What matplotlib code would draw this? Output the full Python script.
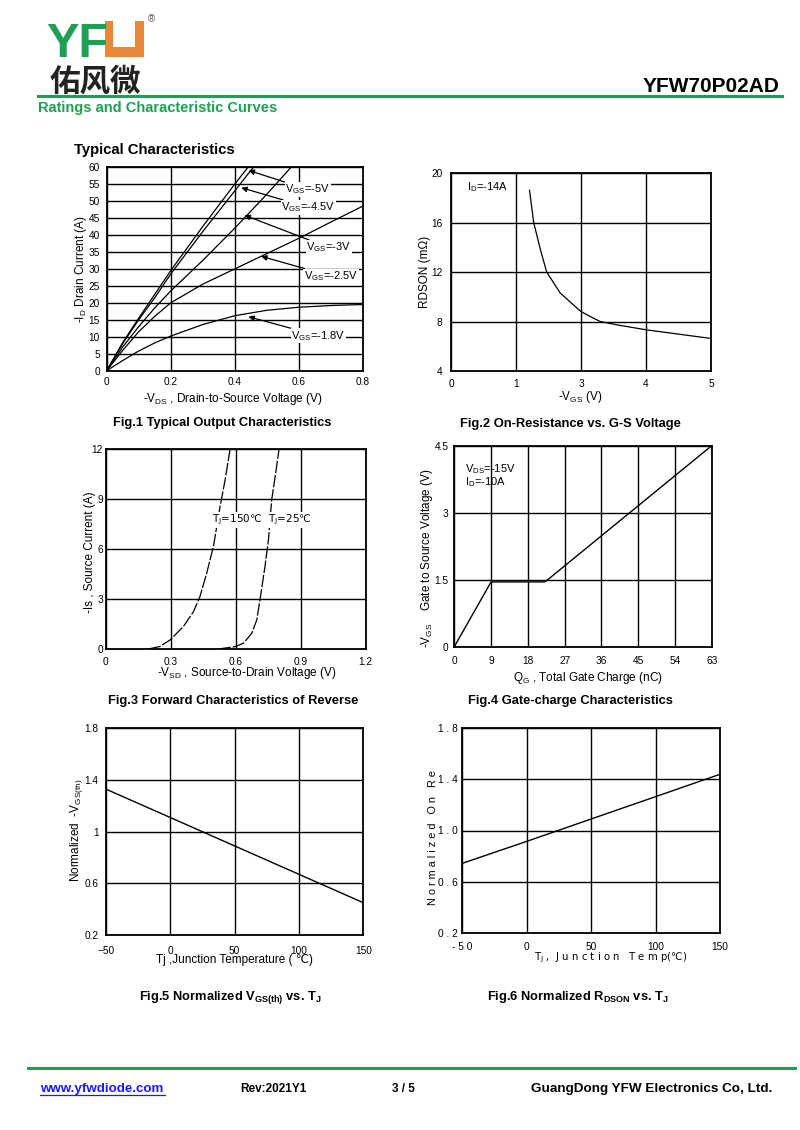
import numpy as np
import matplotlib.pyplot as plt
from matplotlib.patches import Rectangle
from matplotlib.lines import Line2D

plt.rcParams['font.family'] = ['Liberation Sans', 'DejaVu Sans']
plt.rcParams['mathtext.fontset'] = 'custom'
plt.rcParams['mathtext.rm'] = 'Liberation Sans'
plt.rcParams['mathtext.default'] = 'regular'

# ========== DATA ==========

# Fig.1 output characteristics
vds_lo = [0, 0.05, 0.1, 0.15, 0.2, 0.3, 0.4, 0.5, 0.6, 0.7, 0.8]
id_18 = [0, 3.0, 5.8, 8.2, 10.2, 13.6, 16.2, 17.8, 18.7, 19.2, 19.5]
id_25 = [0, 6.0, 11.5, 16.0, 20.0, 25.5, 30.0, 34.5, 39.0, 43.8, 48.5]
vds_hi = [0, 0.05, 0.1, 0.15, 0.2, 0.3, 0.4, 0.5, 0.6]
id_30 = [0, 7.0, 13.0, 18.5, 23.5, 32.5, 42.0, 52.0, 62.5]
id_45 = [0, 8.0, 15.0, 21.5, 28.5, 41.0, 53.0, 65.0, 77.0]
id_50 = [0, 8.3, 15.5, 22.5, 29.5, 42.5, 55.0, 67.0, 79.0]
vgs_curves = ["-1.8V", "-2.5V", "-3V", "-4.5V", "-5V"]
# label centre, arrow tip
lab_pos = [(0.661, 10.3), (0.70, 27.9), (0.6925, 36.3), (0.63, 48.1), (0.627, 53.4)]
tip_pos = [(0.4425, 15.9), (0.482, 33.7), (0.43, 45.8), (0.42, 53.9), (0.443, 59.0)]

# Fig.2 on-resistance (x in the chart's own grid frame, labels 0,1,3,4,5)
vgs2 = [1.51, 1.59, 1.72, 1.84, 2.10, 2.50, 2.74, 2.87, 3.19, 3.75, 4.34, 5.0]
rds2 = [18.6, 16.0, 13.8, 12.0, 10.3, 8.8, 8.27, 8.0, 7.73, 7.33, 7.0, 6.63]
x2_ticks = [0, 1.25, 2.5, 3.75, 5]
x2_labels = ["0", "1", "3", "4", "5"]

# Fig.3 body diode
vsd_150 = [0.197, 0.25, 0.297, 0.358, 0.405, 0.435, 0.466, 0.497, 0.528, 0.551, 0.574]
is_150 = [0.0, 0.15, 0.54, 1.34, 2.24, 3.15, 4.55, 6.15, 8.56, 10.16, 12.0]
vsd_25 = [0.52, 0.597, 0.635, 0.674, 0.697, 0.712, 0.735, 0.751, 0.766, 0.782, 0.80]
is_25 = [0.0, 0.14, 0.34, 0.94, 1.74, 2.94, 4.95, 6.55, 8.95, 10.35, 12.0]

# Fig.4 gate charge
qg = [0, 9, 22.2, 63]
vgs4 = [0, 1.45, 1.45, 4.5]

# Fig.5 / Fig.6 normalised vs temperature
tj = [-50, 0, 50, 100, 150]
vth_norm = [1.33, 1.11, 0.89, 0.67, 0.45]
rds_norm = [0.743, 0.915, 1.09, 1.265, 1.44]

# ========== LAYOUT HELPERS ==========

W, H = 800, 1130
GREEN = '#1f9e55'

fig = plt.figure(figsize=(8, 11.3), dpi=100)


def make_axes(l, t, r, b):
    return fig.add_axes([l / W, 1 - b / H, (r - l) / W, (b - t) / H])


def style(ax, xlim, ylim, xt, yt, xpad, ypad, xtl=None, ytl=None):
    ax.set_xlim(xlim)
    ax.set_ylim(ylim)
    ax.set_xticks(xt)
    ax.set_yticks(yt)
    if xtl is not None:
        ax.set_xticklabels(xtl)
    if ytl is not None:
        ax.set_yticklabels(ytl)
    ax.grid(True, color='black', lw=1.0)
    ax.set_axisbelow(True)
    ax.tick_params(axis='x', length=0, labelsize=7.3, pad=xpad)
    ax.tick_params(axis='y', length=0, labelsize=7.3, pad=ypad)
    for s in ax.spines.values():
        s.set_linewidth(1.3)


def labels(ax, box, xlab, xc, ylab, yc, size=8.5, xsize=None, xkw=None):
    l, t, r, b = box
    ax.set_xlabel(xlab, fontsize=xsize or size, **(xkw or {}))
    ax.set_ylabel(ylab, fontsize=size)
    ax.xaxis.label.set_va('center')
    ax.yaxis.label.set_va('center')
    ax.xaxis.set_label_coords((xc[0] - l) / (r - l), (b - xc[1]) / (b - t))
    ax.yaxis.set_label_coords((yc[0] - l) / (r - l), (b - yc[1]) / (b - t))


def caption(x, y, s):
    fig.text(x / W, 1 - y / H, s, ha='center', va='center',
             fontsize=9.3, fontweight='bold')


# ========== HEADER ==========

fig.text(46 / W, 1 - 57 / H, "YF", color=GREEN, fontsize=35,
         fontweight='bold', va='baseline')
fig.add_artist(Rectangle((105 / W, 1 - 57 / H), 39 / W, 36 / H,
                         transform=fig.transFigure, color='#e8863a', lw=0))
fig.add_artist(Rectangle((113 / W, 1 - 47 / H), 22 / W, 27 / H,
                         transform=fig.transFigure, color='white', lw=0))
fig.text(148 / W, 1 - 22 / H, "®", fontsize=7, color='#555555')
fig.text(50 / W, 1 - 91 / H, "佑风微", fontsize=22, fontweight='bold',
         family=['Noto Sans CJK SC'], color='#222222', va='baseline')
fig.add_artist(Line2D([38 / W, 782 / W], [1 - 96 / H] * 2, color=GREEN,
                      lw=2.2, transform=fig.transFigure))
fig.text(779 / W, 1 - 92 / H, "YFW70P02AD", fontsize=15, fontweight='bold',
         ha='right', va='baseline')
fig.text(38 / W, 1 - 112 / H, "Ratings and Characteristic Curves",
         fontsize=10.5, fontweight='bold', color=GREEN, va='baseline')
fig.text(74 / W, 1 - 154 / H, "Typical Characteristics", fontsize=10.7,
         fontweight='bold', va='baseline')

# ========== FIG.1 ==========

box1 = (106.7, 167, 363, 370.7)
ax1 = make_axes(*box1)
style(ax1, (0, 0.8), (0, 60), [0, 0.2, 0.4, 0.6, 0.8],
      np.arange(0, 61, 5), 4.3, 5, xtl=["0", "0.2", "0.4", "0.6", "0.8"])
ax1.plot(vds_lo, id_18, color='black', lw=0.9)
ax1.plot(vds_lo, id_25, color='black', lw=0.9)
ax1.plot(vds_hi, id_30, color='black', lw=0.9)
ax1.plot(vds_hi, id_45, color='black', lw=0.9)
ax1.plot(vds_hi, id_50, color='black', lw=0.9)
for name, lp, tp in zip(vgs_curves, lab_pos, tip_pos):
    ax1.annotate("V$_{GS}$=" + name, xy=tp, xytext=lp, fontsize=8,
                 ha='center', va='center',
                 bbox=dict(boxstyle='square,pad=0.05', fc='white', ec='none'),
                 arrowprops=dict(arrowstyle='-|>', color='black', lw=0.9,
                                 mutation_scale=8, shrinkA=0, shrinkB=0))
labels(ax1, box1, "-V$_{DS}$ , Drain-to-Source Voltage (V)", (233, 399),
       "-I$_D$ Drain Current (A)", (81, 269))
caption(222, 423, "Fig.1 Typical Output Characteristics")

# ========== FIG.2 ==========

box2 = (451, 173, 711, 371)
ax2 = make_axes(*box2)
style(ax2, (0, 5), (4, 20), x2_ticks, [4, 8, 12, 16, 20], 5.5, 6,
      xtl=x2_labels)
ax2.plot(vgs2, rds2, color='black', lw=0.9)
ax2.text(0.06, 0.93, "I$_D$=-14A", transform=ax2.transAxes, fontsize=8,
         va='center')
labels(ax2, box2, "-V$_{GS}$ (V)", (580, 397), "RDSON (mΩ)", (425, 272))
caption(570, 424, "Fig.2 On-Resistance vs. G-S Voltage")

# ========== FIG.3 ==========

box3 = (105.7, 449.3, 365.7, 649)
ax3 = make_axes(*box3)
style(ax3, (0, 1.2), (0, 12), [0, 0.3, 0.6, 0.9, 1.2],
      [0, 3, 6, 9, 12], 5.5, 2, xtl=["0", "0.3", "0.6", "0.9", "1.2"])
ax3.plot(vsd_150, is_150, color='black', lw=0.9, ls=(0, (10, 1.5)))
ax3.plot(vsd_25, is_25, color='black', lw=0.9, ls=(0, (10, 1.5)))
bb = dict(boxstyle='square,pad=0.05', fc='white', ec='none')
ax3.text(0.489, 7.75, "T$_J$=150℃", fontsize=7.5, va='center', bbox=bb,
         family='DejaVu Sans')
ax3.text(0.75, 7.75, "T$_J$=25℃", fontsize=7.5, va='center', bbox=bb,
         family='DejaVu Sans')
labels(ax3, box3, "-V$_{SD}$ , Source-to-Drain Voltage (V)", (247, 673),
       "-Is , Source Current (A)", (90, 552))
caption(233, 701, "Fig.3 Forward Characteristics of Reverse")

# ========== FIG.4 ==========

box4 = (454.3, 445.7, 711.7, 646.7)
ax4 = make_axes(*box4)
style(ax4, (0, 63), (0, 4.5), np.arange(0, 64, 9), [0, 1.5, 3, 4.5],
      7, 4, ytl=["0", "1.5", "3", "4.5"])
ax4.plot(qg, vgs4, color='black', lw=1.0)
ax4.text(0.04, 0.92, "V$_{DS}$=-15V\nI$_D$=-10A", transform=ax4.transAxes,
         fontsize=8, va='top', linespacing=1.0)
labels(ax4, box4, "Q$_G$ , Total Gate Charge (nC)", (588, 678),
       "-V$_{GS}$    Gate to Source Voltage (V)", (427, 558))
caption(570, 701, "Fig.4 Gate-charge Characteristics")

# ========== FIG.5 ==========

box5 = (105.7, 728.3, 363.3, 935)
ax5 = make_axes(*box5)
style(ax5, (-50, 150), (0.2, 1.8), [-50, 0, 50, 100, 150],
      [0.2, 0.6, 1.0, 1.4, 1.8], 8, 5,
      ytl=["0.2", "0.6", "1", "1.4", "1.8"])
ax5.plot(tj, vth_norm, color='black', lw=1.0)
labels(ax5, box5, "Tj ,Junction Temperature ( ℃)", (235, 960),
       "Normalized  -V$_{GS(th)}$", (77, 830))
caption(230, 997, "Fig.5 Normalized V$_{GS(th)}$ vs. T$_J$")

# ========== FIG.6 ==========

box6 = (462.3, 728.3, 720, 932.7)
ax6 = make_axes(*box6)
style(ax6, (-50, 150), (0.2, 1.8), [-50, 0, 50, 100, 150],
      [0.2, 0.6, 1.0, 1.4, 1.8], 7, 3,
      xtl=["- 5 0", "0", "50", "100", "150"],
      ytl=["0 . 2", "0 . 6", "1 . 0", "1 . 4", "1 . 8"])
ax6.plot(tj, rds_norm, color='black', lw=1.0)
labels(ax6, box6, "T$_J$ ,  J u n c t i o n   T e m p(℃)", (611, 958),
       "N o r m a l i z e d   O n   R e", (433, 838), size=7.8, xsize=7.3,
       xkw=dict(family='DejaVu Sans'))
caption(578, 997, "Fig.6 Normalized R$_{DSON}$ vs. T$_J$")

# ========== FOOTER ==========

fig.add_artist(Line2D([28 / W, 795 / W], [1 - 1068 / H] * 2, color=GREEN,
                      lw=2.2, transform=fig.transFigure))
fy = 1 - 1092 / H
fig.text(40 / W, fy, "www.yfwdiode.com", fontsize=9.6, fontweight='bold',
         color='#1a1aff', va='baseline')
fig.add_artist(Line2D([40 / W, 165 / W], [1 - 1094.5 / H] * 2,
                      color='#1a1aff', lw=0.9, transform=fig.transFigure))
fig.text(240 / W, fy, "Rev:2021Y1", fontsize=8.5, fontweight='bold',
         va='baseline')
fig.text(392 / W, fy, "3 / 5", fontsize=8.5, fontweight='bold', va='baseline')
fig.text(772 / W, fy, "GuangDong YFW Electronics Co, Ltd.", fontsize=9.7,
         fontweight='bold', ha='right', va='baseline')

fig.savefig("out.png", dpi=100)
